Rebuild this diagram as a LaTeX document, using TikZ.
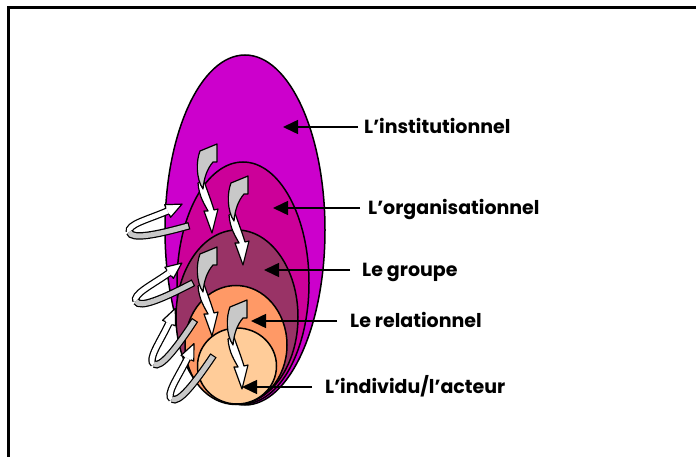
\documentclass[tikz,border=0pt]{standalone}
\usepackage{fontspec}
\setmainfont{Poppins}
\usepackage{tikz}
\usetikzlibrary{arrows.meta}

\definecolor{instcol}{HTML}{CC00CC}
\definecolor{orgcol}{HTML}{CC0099}
\definecolor{grpcol}{HTML}{993366}
\definecolor{relcol}{HTML}{FF9966}
\definecolor{indcol}{HTML}{FFCC99}
\definecolor{bandgray}{HTML}{C8C8C8}

\begin{document}
\begin{tikzpicture}[x=1pt, y=-1pt,
  layer/.style={draw, line width=1.5pt},
  pointer/.style={-{Triangle[length=15pt, width=14pt]}, line width=1.5pt},
  levelname/.style={anchor=west, inner sep=0pt,
    text height=13pt, text depth=0pt, font=\bfseries\fontsize{19}{22}\selectfont},
  bandout/.style={line width=7.5pt, black},
  bandin/.style={line width=5pt},
  twist/.style={draw, line width=1.2pt, line join=round},
]
\useasboundingbox (0,0) rectangle (696,457);
\draw[line width=3pt] (8,457) -- (8,7.5) -- (696,7.5);

% nested levels
\filldraw[layer, fill=instcol] (245,230) ellipse [x radius=80, y radius=175];
\filldraw[layer, fill=orgcol]  (243,283) ellipse [x radius=66, y radius=121];
\filldraw[layer, fill=grpcol]  (237,317) ellipse [x radius=61, y radius=87];
\filldraw[layer, fill=relcol]  (236,345) ellipse [x radius=51, y radius=59.5];
\filldraw[layer, fill=indcol]  (237,366) ellipse [x radius=39.5, y radius=38];

% loops on the left
\foreach \sx/\sy/\ang in {126/233/15.6, 133/303/27.6, 152/367/56.6, 170/402/56}{
  \begin{scope}[shift={(\sx,\sy)}, rotate=\ang]
    \draw[bandout] (3.5,0) .. controls (3.5,-8) and (24,-7) .. (46,-10);
    \draw[bandin, white] (3.5,0) .. controls (3.5,-8) and (24,-7) .. (46,-10);
    \begin{scope}[shift={(46,-10)}, rotate=10]
      \fill[white] (0,-7) -- (16,0) -- (0,7) -- cycle;
      \draw[line width=1.2pt, line join=round] (0,-3.75) -- (0,-7) -- (16,0) -- (0,7) -- (0,3.75);
    \end{scope}
    \draw[bandout] (63,10) .. controls (28,10) and (3.5,8) .. (3.5,0);
    \draw[bandin, bandgray, shorten <=1.2pt] (63,10) .. controls (28,10) and (3.5,8) .. (3.5,0);
  \end{scope}
}

% twisted arrows inside
\foreach \tx/\ty in {209/145, 240/177, 209/248, 239/301}{
  \begin{scope}[shift={(\tx,\ty)}]
    \filldraw[twist, fill=white] (-11,38) .. controls (-10,52) and (-4,60) .. (-1,66)
      -- (-5,66) -- (3,88) -- (9,64) -- (5,65) .. controls (2,55) and (-2,45) .. (-5,36) -- cycle;
    \filldraw[twist, fill=bandgray] (-9,6) -- (8,-1) -- (8,17) -- (4,17)
      .. controls (-2,24) and (-5,33) .. (-6,44) .. controls (-13,34) and (-13,16) .. cycle;
  \end{scope}
}

% labels
\node[levelname] (tInst) at (364,127) {L’institutionnel};
\node[levelname] (tOrg)  at (368,208) {L’organisationnel};
\node[levelname] (tGrp)  at (362,270) {Le groupe};
\node[levelname] (tRel)  at (350,321) {Le relationnel};
\node[levelname] (tInd)  at (325,387) {L’individu/l’acteur};
\coordinate (pInst) at (283,127);
\coordinate (pOrg)  at (273,208);
\coordinate (pGrp)  at (264,270);
\coordinate (pRel)  at (251,321);
\coordinate (pInd)  at (242,387);
\draw[pointer, shorten <=6pt]  (tInst.west) -- (pInst);
\draw[pointer, shorten <=8pt]  (tOrg.west)  -- (pOrg);
\draw[pointer, shorten <=12pt] (tGrp.west)  -- (pGrp);
\draw[pointer, shorten <=13pt] (tRel.west)  -- (pRel);
\draw[pointer, shorten <=13pt] (tInd.west)  -- (pInd);
\end{tikzpicture}
\end{document}
